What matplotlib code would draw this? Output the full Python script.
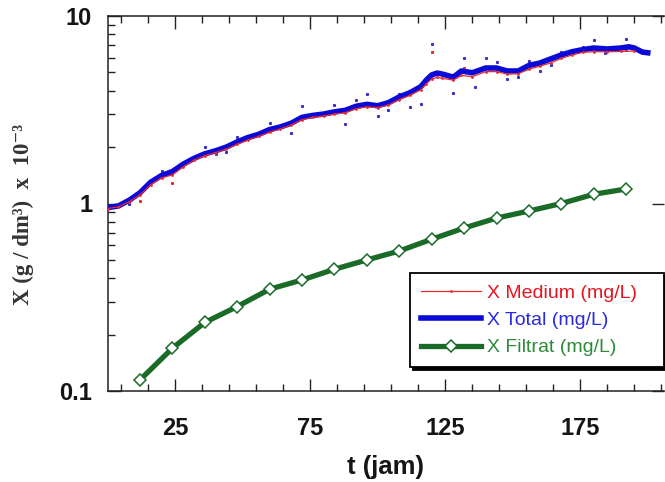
import matplotlib
matplotlib.use("Agg")
import matplotlib.pyplot as plt
from matplotlib.lines import Line2D
from matplotlib.ticker import FixedLocator, LogLocator, NullFormatter

# ---- data ----
t_total = [0, 4, 8, 12, 16, 20, 24, 28, 32, 36, 40, 44, 48, 52, 56, 60, 64, 68, 72, 76,
           80, 84, 88, 92, 96, 100, 104, 108, 112, 116, 118, 120, 122, 124, 128, 131, 135,
           140, 144, 148, 152, 156, 160, 164, 168, 172, 176, 180, 185, 190, 193, 195, 198, 201]
x_total = [0.95, 0.97, 1.04, 1.14, 1.30, 1.41, 1.48, 1.62, 1.74, 1.84, 1.91, 2.00, 2.13, 2.25,
           2.34, 2.48, 2.56, 2.68, 2.88, 2.95, 3.00, 3.08, 3.14, 3.30, 3.38, 3.32, 3.45, 3.70,
           3.90, 4.20, 4.55, 4.85, 4.96, 4.90, 4.72, 5.09, 4.98, 5.28, 5.28, 5.09, 5.09, 5.45,
           5.61, 5.90, 6.20, 6.45, 6.62, 6.75, 6.67, 6.75, 6.85, 6.75, 6.42, 6.34]

t_medium = [0, 4, 8, 12, 16, 20, 24, 28, 32, 36, 40, 44, 48, 52, 56, 60, 64, 68, 72, 76,
            80, 84, 88, 92, 96, 100, 104, 108, 112, 116, 118, 120, 122, 124, 128, 131, 135,
            140, 144, 148, 152, 156, 160, 164, 168, 172, 176, 180, 185, 190, 195]
x_medium = [0.94, 0.96, 1.02, 1.11, 1.26, 1.37, 1.42, 1.57, 1.70, 1.80, 1.87, 1.95, 2.07, 2.18,
            2.28, 2.40, 2.50, 2.62, 2.80, 2.88, 2.93, 3.00, 3.05, 3.20, 3.28, 3.25, 3.35, 3.58,
            3.78, 4.05, 4.35, 4.62, 4.70, 4.65, 4.55, 4.82, 4.75, 5.05, 5.05, 4.90, 4.92, 5.20,
            5.40, 5.62, 5.95, 6.20, 6.40, 6.45, 6.45, 6.47, 6.50]

t_raw_total = [8, 20, 36, 40, 44, 48, 60, 68, 72, 84, 88, 92, 96, 100, 104, 108, 112, 116,
               120, 128, 132, 136, 140, 144, 148, 152, 156, 160, 164, 168, 176, 180, 184, 192]
x_raw_total = [0.99, 1.49, 2.00, 1.84, 1.88, 2.26, 2.70, 2.37, 3.31, 3.36, 2.65, 3.56, 3.83,
               2.93, 3.15, 3.83, 3.27, 3.40, 7.10, 3.90, 6.00, 4.18, 5.96, 5.70, 4.60, 4.73,
               5.75, 5.09, 5.49, 6.42, 6.83, 7.45, 6.34, 7.55]

t_raw_medium = [12, 24, 120, 132, 156, 192]
x_raw_medium = [1.03, 1.29, 6.40, 5.28, 5.45, 6.55]

t_filtrat = [12, 24, 36, 48, 60, 72, 84, 96, 108, 120, 132, 144, 156, 168, 180, 192]
x_filtrat = [0.1145, 0.169, 0.232, 0.282, 0.349, 0.391, 0.446, 0.500, 0.558, 0.645,
             0.740, 0.836, 0.912, 1.00, 1.12, 1.195]

x_major_ticks = [25, 75, 125, 175]
x_minor_ticks = [5, 15, 35, 45, 55, 65, 85, 95, 105, 115, 135, 145, 155, 165, 185, 195, 205]
y_ticks = [0.1, 1, 10]
y_ticklabels = ["0.1", "1", "10"]

labels = ["X Medium (mg/L)", "X Total (mg/L)", "X Filtrat (mg/L)"]

# ---- styling ----
RED = "#e8282c"
BLUE = "#0a0ad8"
GREEN = "#1b6b28"
TXT_RED = "#e8141e"
TXT_BLUE = "#2a2ae0"
TXT_GREEN = "#2f8a3c"
sans = ["Liberation Sans", "DejaVu Sans"]

fig = plt.figure(figsize=(6.65, 4.82), dpi=100)
ax = fig.add_axes([107.5 / 665, 91 / 482, 556.5 / 665, 375 / 482])

ax.plot(t_raw_total, x_raw_total, linestyle="none", marker="s", markersize=1.2,
        color="#3a30c8", zorder=2)
ax.plot(t_raw_medium, x_raw_medium, linestyle="none", marker="s", markersize=1.2,
        color=RED, zorder=2)
ax.plot(t_total, x_total, color=BLUE, lw=4.0, solid_capstyle="butt", zorder=3)
ax.plot(t_medium, x_medium, color=RED, lw=0.9, marker=".", markersize=2, zorder=4)
ax.plot(t_filtrat, x_filtrat, color=GREEN, lw=3.8, marker="D", markersize=6,
        markerfacecolor="white", markeredgecolor=GREEN, markeredgewidth=1.1, zorder=5)

ax.set_yscale("log")
ax.set_xlim(0, 206)
ax.set_ylim(0.1, 10)

ax.xaxis.set_major_locator(FixedLocator(x_major_ticks))
ax.xaxis.set_minor_locator(FixedLocator(x_minor_ticks))
ax.set_xticklabels([str(v) for v in x_major_ticks])
ax.yaxis.set_major_locator(FixedLocator(y_ticks))
ax.set_yticklabels(y_ticklabels)
ax.yaxis.set_minor_locator(LogLocator(base=10, subs=range(2, 10)))
ax.yaxis.set_minor_formatter(NullFormatter())

ax.tick_params(axis="both", which="both", direction="in", color="#222222", width=1.0)
ax.tick_params(axis="x", which="major", length=9, pad=18.5, top=True, bottom=True)
ax.tick_params(axis="x", which="minor", length=5, top=True, bottom=True)
ax.tick_params(axis="y", which="major", length=9, pad=11, left=True, right=True)
ax.tick_params(axis="y", which="minor", length=5, left=True, right=False)
for lab in ax.get_xticklabels() + ax.get_yticklabels():
    lab.set_fontfamily(sans)
    lab.set_fontweight("bold")
    lab.set_fontsize(17)
    lab.set_color("#151515")

for side in ["left", "bottom", "top"]:
    ax.spines[side].set_linewidth(1.1)
    ax.spines[side].set_color("#222222")
ax.spines["right"].set_visible(False)

ax.set_xlabel("t (jam)", fontsize=18.5, fontweight="bold", family=sans,
              color="#151515", labelpad=11)
ax.set_ylabel("X (g / dm³)  x  10⁻³", fontsize=16.5, fontweight="bold",
              family=["Liberation Serif", "DejaVu Serif"], color="#333333")
ax.yaxis.set_label_coords(-0.132, 0.47)

handles = [
    Line2D([], [], color=RED, lw=0.9, marker=".", markersize=2),
    Line2D([], [], color=BLUE, lw=4.0),
    Line2D([], [], color=GREEN, lw=3.8, marker="D", markersize=6,
           markerfacecolor="white", markeredgecolor=GREEN, markeredgewidth=1.1),
]
leg = ax.legend(handles, [l + "   " for l in labels], loc="lower right",
                bbox_to_anchor=(1.0, 0.064),
                prop={"family": sans, "size": 14}, frameon=True, fancybox=False,
                shadow={"color": "black", "alpha": 1.0}, handlelength=3.1,
                handletextpad=0.3, labelspacing=0.5, borderpad=0.55,
                borderaxespad=0.0)
leg.get_frame().set_edgecolor("black")
leg.get_frame().set_linewidth(1.3)
for txt, c in zip(leg.get_texts(), [TXT_RED, TXT_BLUE, TXT_GREEN]):
    txt.set_color(c)

fig.savefig("out.png", dpi=100)
